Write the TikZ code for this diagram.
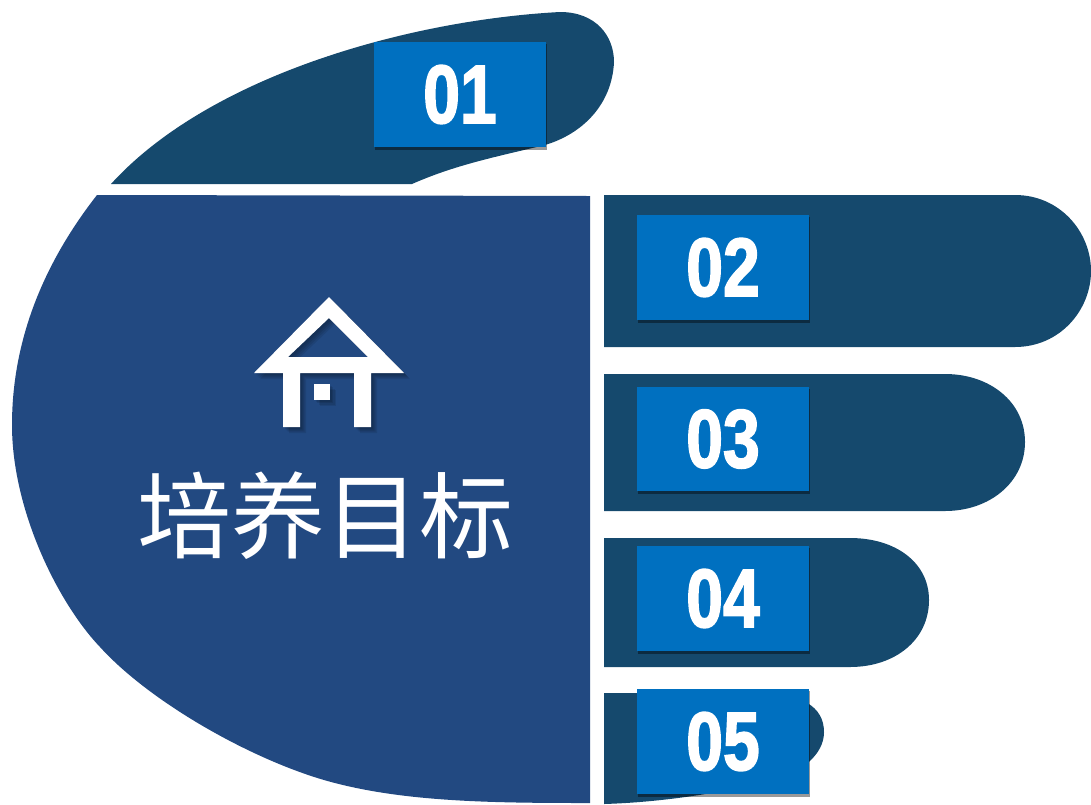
\documentclass[tikz,border=0pt]{standalone}
\usepackage{fontspec}
\setmainfont{Liberation Sans}
\newfontfamily\cjk{Noto Sans CJK SC}
\newfontfamily\tagfont[FakeBold=2.2]{Liberation Sans Bold}
\definecolor{finger}{HTML}{15496D}
\definecolor{palm}{HTML}{224981}
\definecolor{tag}{HTML}{0070C0}
\newcommand{\houseroof}{(329,297) -- (404,373) -- (371,373) -- (371,427) -- (354,427) -- (354,373) -- (300,373) -- (300,427) -- (283,427) -- (283,373) -- (254,373) -- cycle (329,318) -- (288,357) -- (368,357) -- cycle}
\tikzset{
  fingershape/.style={fill=finger,draw=none},
  tagbox/.style={fill=tag,draw=none,minimum width=129pt,inner sep=0pt},
  tagshadow/.style={fill=black,fill opacity=.4,draw=none},
  tagtext/.style={text=white,font=\tagfont\fontsize{62}{70}\selectfont,xscale=.8,inner sep=0pt},
  houseshadow/.style={fill=black,fill opacity=.09,draw=none}
}
\begin{document}
\begin{tikzpicture}[x=0.75pt,y=-0.75pt]
\useasboundingbox (0,0) rectangle (1091,804);
% thumb
\path[fingershape] (111,184) .. controls (210,75) and (410,20) .. (560,12)
  .. controls (596,12) and (614,36) .. (614,62)
  .. controls (612,105) and (582,134) .. (545,145)
  .. controls (495,157) and (455,165) .. (412,184) -- cycle;
% fingers
\path[fingershape] (604,195) -- (1015,195) .. controls (1060,195) and (1091,232) .. (1091,271)
  .. controls (1091,310) and (1060,347) .. (1015,347) -- (604,347) -- cycle;
\path[fingershape] (604,374) -- (945,374) .. controls (990,374) and (1025,402) .. (1025,442)
  .. controls (1025,482) and (990,511) .. (945,511) -- (604,511) -- cycle;
\path[fingershape] (604,538) -- (850,538) .. controls (895,538) and (929,562) .. (929,600)
  .. controls (929,640) and (895,667) .. (850,667) -- (604,667) -- cycle;
\path[fingershape] (604,693) -- (760,693) .. controls (800,693) and (824,706) .. (824,732)
  .. controls (824,750) and (810,764) .. (790,775)
  .. controls (740,790) and (670,802) .. (604,804) -- cycle;
% palm
\path[fill=palm] (97,195) -- (590,196) -- (590,803)
  .. controls (490,803) and (400,802) .. (324,780)
  .. controls (249,758) and (150,702) .. (100,647)
  .. controls (58,603) and (12,510) .. (12,425)
  .. controls (12,345) and (40,268) .. (97,195) -- cycle;
% house shadow
\foreach \d in {1.5,2.5,3.5,4.5}{
\begin{scope}[xshift=\d pt,yshift=-\d pt]
\path[houseshadow,even odd rule] \houseroof;
\path[houseshadow] (314,384) rectangle (330,400);
\end{scope}}
% house
\path[fill=white,even odd rule] \houseroof;
\path[fill=white] (314,384) rectangle (330,400);
\node[text=white,inner sep=0pt,font=\cjk\fontsize{70.5}{80}\selectfont] (title) at (325,516) {培养目标};
% tags
\path[tagshadow] (375,44) rectangle (547,150);
\path[tagshadow] (638,217) rectangle (810,323);
\path[tagshadow] (638,389) rectangle (810,494);
\path[tagshadow] (638,548) rectangle (810,654);
\path[tagshadow] (638,691) rectangle (810,797);
\node[tagbox,minimum height=78.75pt] (t1) at (460,94.5) {};
\node[tagbox,minimum height=78.75pt] (t2) at (723,267.5) {};
\node[tagbox,minimum height=78pt] (t3) at (723,439) {};
\node[tagbox,minimum height=78.75pt] (t4) at (723,598.5) {};
\node[tagbox,minimum height=78.75pt] (t5) at (723,741.5) {};
\node[tagtext] at (t1) {01};
\node[tagtext] at (t2) {02};
\node[tagtext] at (t3) {03};
\node[tagtext] at (t4) {04};
\node[tagtext] at (t5) {05};
\end{tikzpicture}
\end{document}
